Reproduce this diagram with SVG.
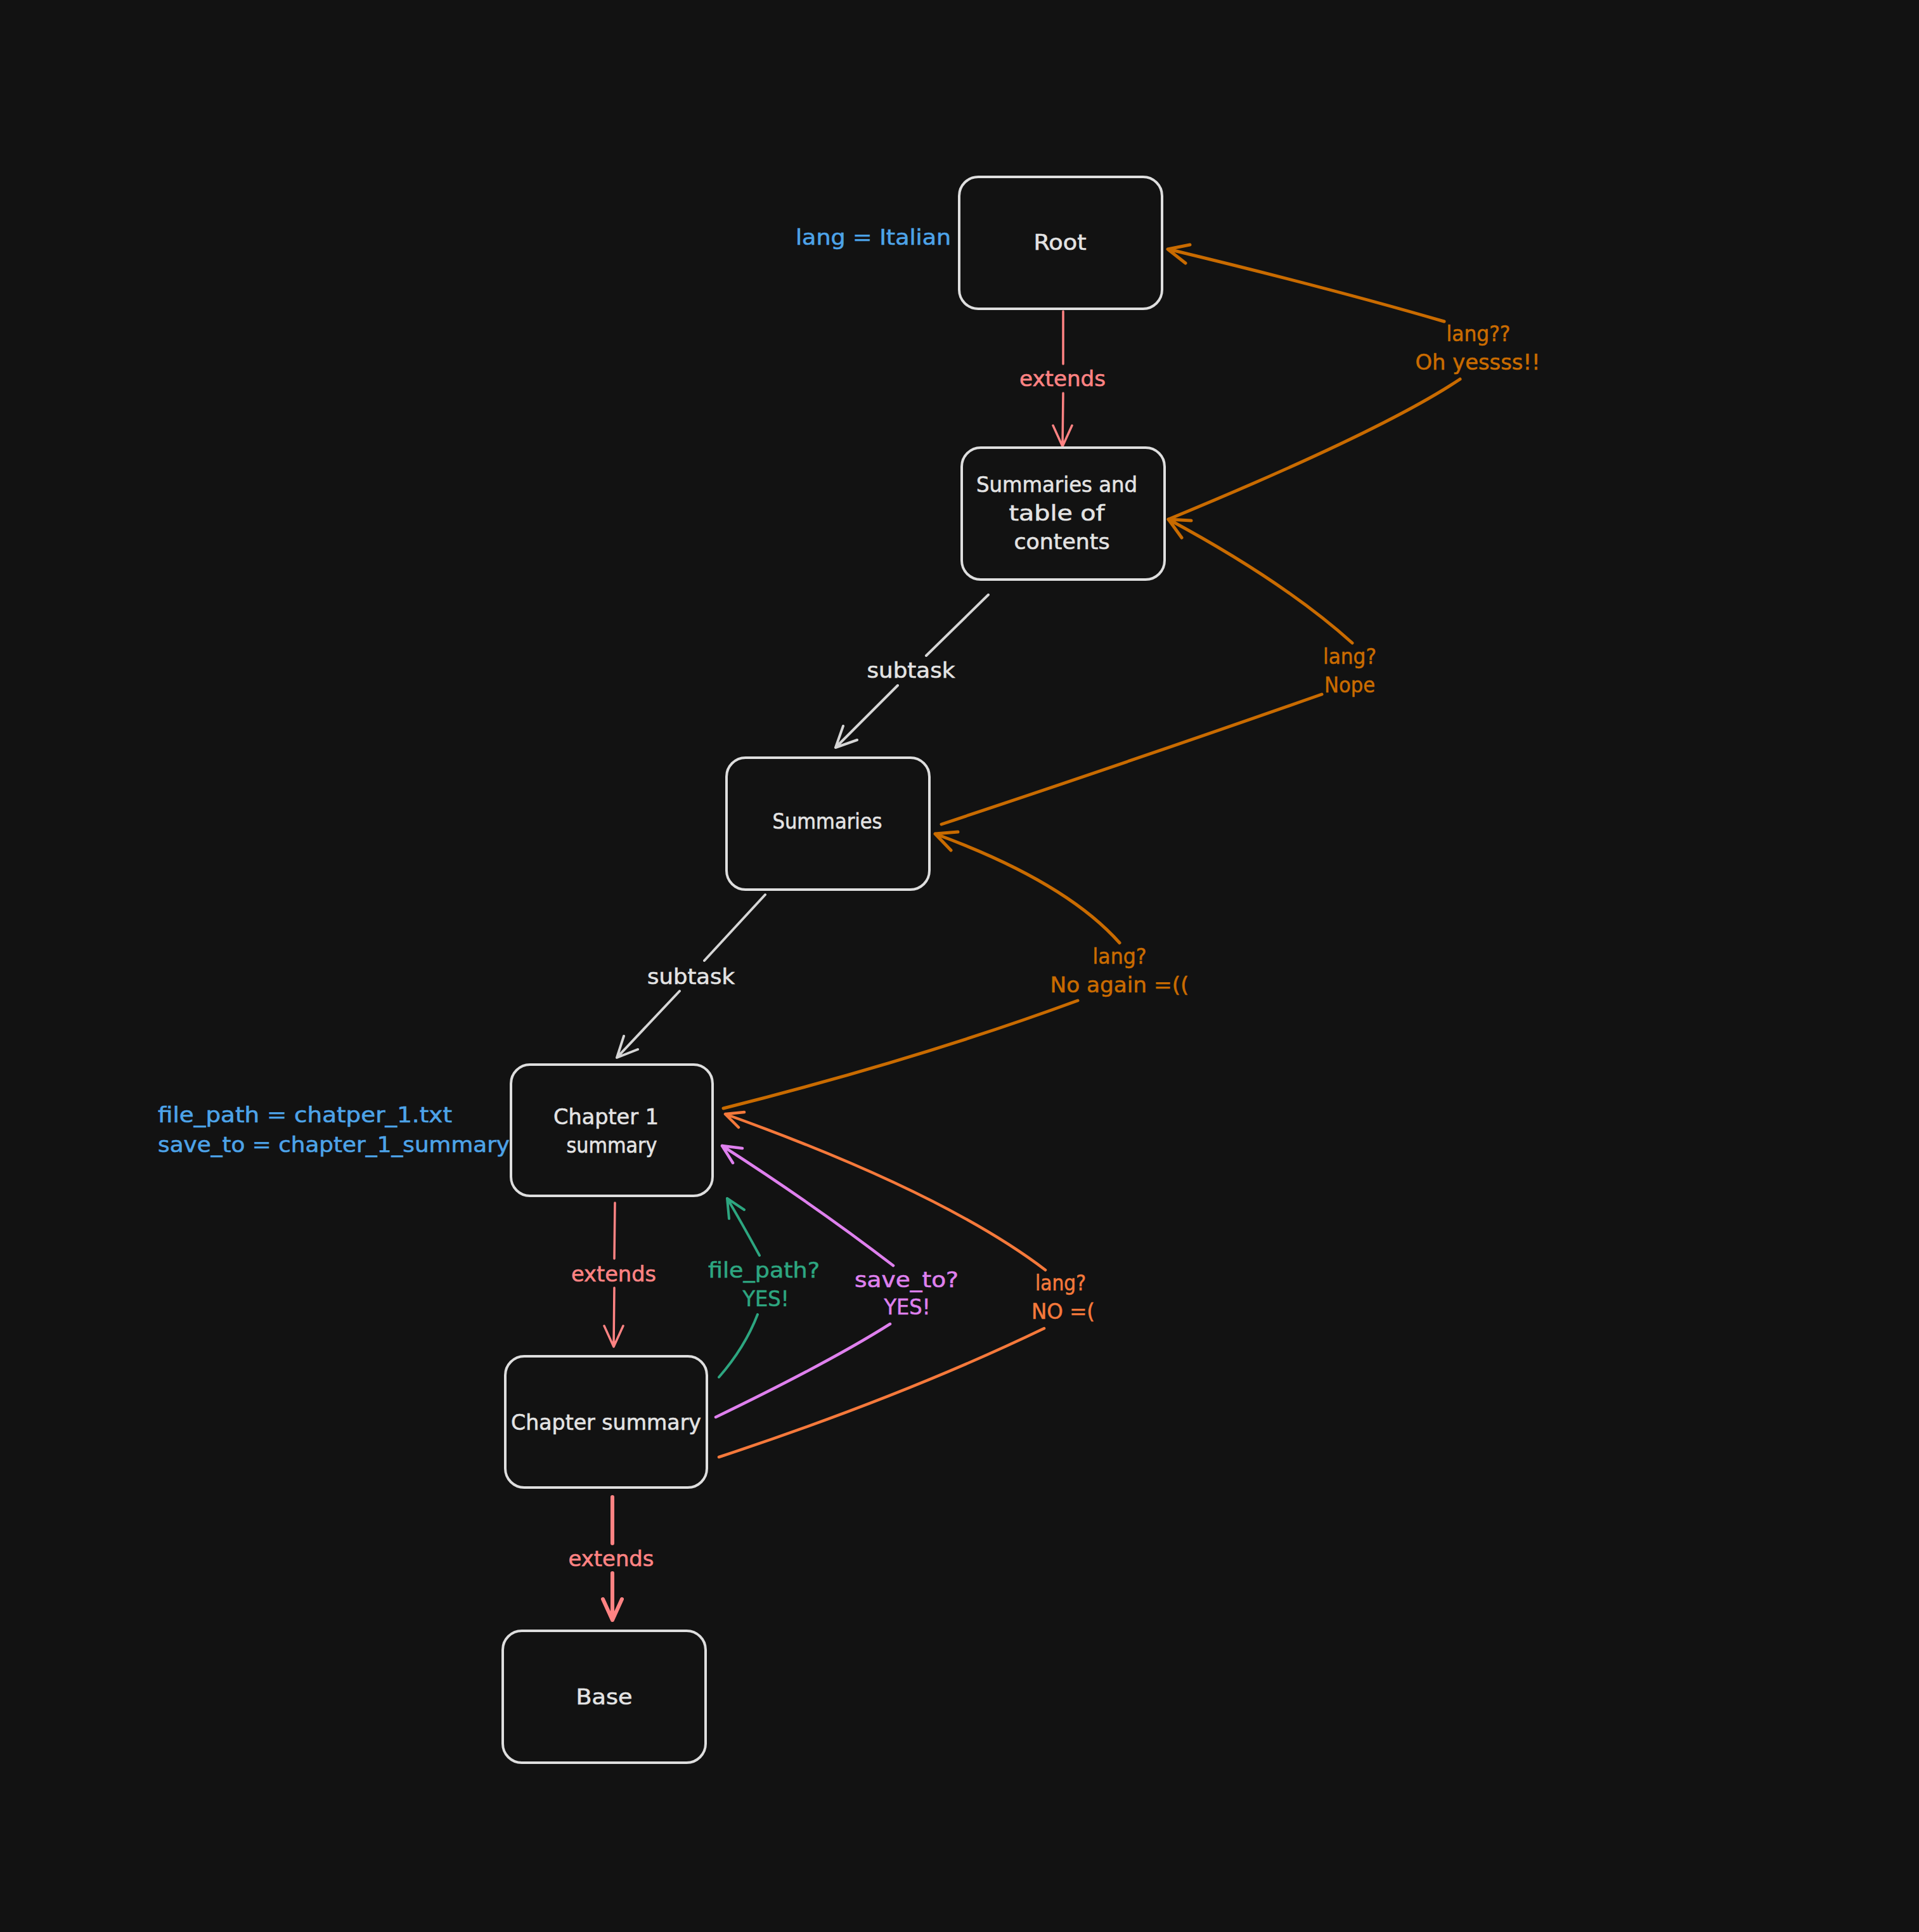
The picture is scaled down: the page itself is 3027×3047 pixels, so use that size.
<svg xmlns="http://www.w3.org/2000/svg" width="3027" height="3047" viewBox="0 0 3027 3047">
  <style>
    .box { fill: none; stroke: #dedede; stroke-width: 4; }
    .txt { font-family: "DejaVu Sans", "Liberation Sans", sans-serif; font-size: 33px; text-anchor: middle; stroke-width: 0.6; }
    .node { fill: #e3e3e3; stroke: #e3e3e3; }
    .ln { fill: none; stroke-linecap: round; stroke-linejoin: round; }
    .red { stroke: #ff8383; stroke-width: 3.5; }
    .redb { stroke: #ff8383; stroke-width: 6; }
    .gray { stroke: #d6d6d6; stroke-width: 4; }
    .dor { stroke: #c96b00; stroke-width: 5; }
    .bor { stroke: #f5793b; stroke-width: 4.5; }
    .pur { stroke: #df80ee; stroke-width: 4.5; }
    .grn { stroke: #2da680; stroke-width: 4; }
    .t-red { fill: #ff8383; stroke: #ff8383; }
    .t-gray { fill: #e3e3e3; stroke: #e3e3e3; }
    .t-blue { fill: #4da3e8; stroke: #4da3e8; }
    .t-dor { fill: #c96b00; stroke: #c96b00; }
    .t-bor { fill: #f5793b; stroke: #f5793b; }
    .t-pur { fill: #df80ee; stroke: #df80ee; }
    .t-grn { fill: #2da680; stroke: #2da680; }
  </style>
  <rect width="3027" height="3047" fill="#121212"/>

  <!-- connectors -->
  <g id="connectors">
    <!-- Root -> Summaries and table of contents -->
    <g id="e-root-toc">
      <path class="ln red" d="M1677,491 L1677,574 M1677,620 L1676,704 M1661,671 L1676,704 L1691,671"/>
      <text class="txt t-red" x="1676" y="609" textLength="136" lengthAdjust="spacingAndGlyphs">extends</text>
    </g>
    <!-- Summaries and table of contents -> Summaries -->
    <g id="e-toc-sum">
      <path class="ln gray" d="M1559,938 L1461,1034 M1416,1081 L1318,1179 M1352,1167 L1318,1179 L1330,1145"/>
      <text class="txt t-gray" x="1437" y="1069" textLength="139" lengthAdjust="spacingAndGlyphs">subtask</text>
    </g>
    <!-- Summaries -> Chapter 1 summary -->
    <g id="e-sum-ch1">
      <path class="ln gray" d="M1207,1411 L1111,1515 M1072,1563 L973,1668 M1006,1655 L973,1668 L984,1634"/>
      <text class="txt t-gray" x="1090" y="1552" textLength="138" lengthAdjust="spacingAndGlyphs">subtask</text>
    </g>
    <!-- Chapter 1 summary -> Chapter summary -->
    <g id="e-ch1-chs">
      <path class="ln red" d="M970,1897 L969,1985 M969,2031 L968,2124 M953,2091 L968,2124 L983,2091"/>
      <text class="txt t-red" x="968" y="2021" textLength="134" lengthAdjust="spacingAndGlyphs">extends</text>
    </g>
    <!-- Chapter summary -> Base -->
    <g id="e-chs-base">
      <path class="ln redb" d="M966,2361 L966,2434 M966,2481 L966,2555 M951,2522 L966,2555 L981,2522"/>
      <text class="txt t-red" x="964" y="2470" textLength="135" lengthAdjust="spacingAndGlyphs">extends</text>
    </g>

    <!-- lang lookups climbing the chain -->
    <g id="q-toc-root">
      <path class="ln dor" d="M1843,819 Q2180,680 2303,598 M2278,507 Q2100,455 1843,393 M1870,415 L1842,393 L1877,386"/>
      <text class="txt t-dor" x="2332" y="538" textLength="101" lengthAdjust="spacingAndGlyphs">lang??</text>
      <text class="txt t-dor" x="2331" y="583" textLength="197" lengthAdjust="spacingAndGlyphs">Oh yessss!!</text>
    </g>
    <g id="q-sum-toc">
      <path class="ln dor" d="M1485,1300 Q1800,1195 2085,1095 M2133,1014 Q2025,917 1843,819 M1864,848 L1843,819 L1879,821"/>
      <text class="txt t-dor" x="2129" y="1047" textLength="84" lengthAdjust="spacingAndGlyphs">lang?</text>
      <text class="txt t-dor" x="2129" y="1092" textLength="80" lengthAdjust="spacingAndGlyphs">Nope</text>
    </g>
    <g id="q-ch1-sum">
      <path class="ln dor" d="M1141,1748 Q1450,1670 1700,1578 M1766,1487 Q1680,1390 1475,1315 M1500,1341 L1475,1315 L1511,1312"/>
      <text class="txt t-dor" x="1766" y="1520" textLength="85" lengthAdjust="spacingAndGlyphs">lang?</text>
      <text class="txt t-dor" x="1766" y="1565" textLength="219" lengthAdjust="spacingAndGlyphs">No again =((</text>
    </g>
    <g id="q-chs-ch1-lang">
      <path class="ln bor" d="M1134,2298 Q1427,2201 1647,2095 M1649,2003 Q1489,1881 1144,1757 M1165,1778 L1144,1757 L1174,1754"/>
      <text class="txt t-bor" x="1673" y="2035" textLength="80" lengthAdjust="spacingAndGlyphs">lang?</text>
      <text class="txt t-bor" x="1677" y="2080" textLength="100" lengthAdjust="spacingAndGlyphs">NO =(</text>
    </g>
    <g id="q-chs-ch1-save">
      <path class="ln pur" d="M1129,2235 Q1311,2147 1404,2088 M1409,1996 Q1287,1902 1139,1807 M1156,1834 L1139,1807 L1171,1811"/>
      <text class="txt t-pur" x="1430" y="2030" textLength="164" lengthAdjust="spacingAndGlyphs">save_to?</text>
      <text class="txt t-pur" x="1431" y="2073" textLength="73" lengthAdjust="spacingAndGlyphs">YES!</text>
    </g>
    <g id="q-chs-ch1-file">
      <path class="ln grn" d="M1134,2172 Q1175,2125 1195,2073 M1198,1980 Q1168,1925 1147,1890 M1150,1922 L1147,1890 L1174,1908"/>
      <text class="txt t-grn" x="1205" y="2015" textLength="176" lengthAdjust="spacingAndGlyphs">file_path?</text>
      <text class="txt t-grn" x="1208" y="2060" textLength="73" lengthAdjust="spacingAndGlyphs">YES!</text>
    </g>
  </g>

  <!-- nodes -->
  <g id="root">
    <rect class="box" x="1513" y="279" width="320" height="208" rx="30"/>
    <text class="txt node" x="1672" y="394" textLength="83" lengthAdjust="spacingAndGlyphs">Root</text>
    <text class="txt t-blue" x="1255" y="386" style="text-anchor:start" textLength="245" lengthAdjust="spacingAndGlyphs">lang = Italian</text>
  </g>
  <g id="summaries-toc">
    <rect class="box" x="1517" y="706" width="320" height="208" rx="30"/>
    <text class="txt node" x="1667" y="776" textLength="254" lengthAdjust="spacingAndGlyphs">Summaries and</text>
    <text class="txt node" x="1667" y="821" textLength="151" lengthAdjust="spacingAndGlyphs">table of</text>
    <text class="txt node" x="1675" y="866" textLength="151" lengthAdjust="spacingAndGlyphs">contents</text>
  </g>
  <g id="summaries">
    <rect class="box" x="1146" y="1195" width="320" height="208" rx="30"/>
    <text class="txt node" x="1305" y="1307" textLength="173" lengthAdjust="spacingAndGlyphs">Summaries</text>
  </g>
  <g id="chapter-1-summary">
    <rect class="box" x="806" y="1679" width="318" height="207" rx="30"/>
    <text class="txt node" x="956" y="1773" textLength="166" lengthAdjust="spacingAndGlyphs">Chapter 1</text>
    <text class="txt node" x="965" y="1818" textLength="143" lengthAdjust="spacingAndGlyphs">summary</text>
    <text class="txt t-blue" x="249" y="1770" style="text-anchor:start" textLength="464" lengthAdjust="spacingAndGlyphs">file_path = chatper_1.txt</text>
    <text class="txt t-blue" x="249" y="1817" style="text-anchor:start" textLength="555" lengthAdjust="spacingAndGlyphs">save_to = chapter_1_summary</text>
  </g>
  <g id="chapter-summary">
    <rect class="box" x="797" y="2139" width="318" height="207" rx="30"/>
    <text class="txt node" x="956" y="2255" textLength="300" lengthAdjust="spacingAndGlyphs">Chapter summary</text>
  </g>
  <g id="base">
    <rect class="box" x="793" y="2572" width="320" height="208" rx="30"/>
    <text class="txt node" x="953" y="2688" textLength="89" lengthAdjust="spacingAndGlyphs">Base</text>
  </g>
</svg>
